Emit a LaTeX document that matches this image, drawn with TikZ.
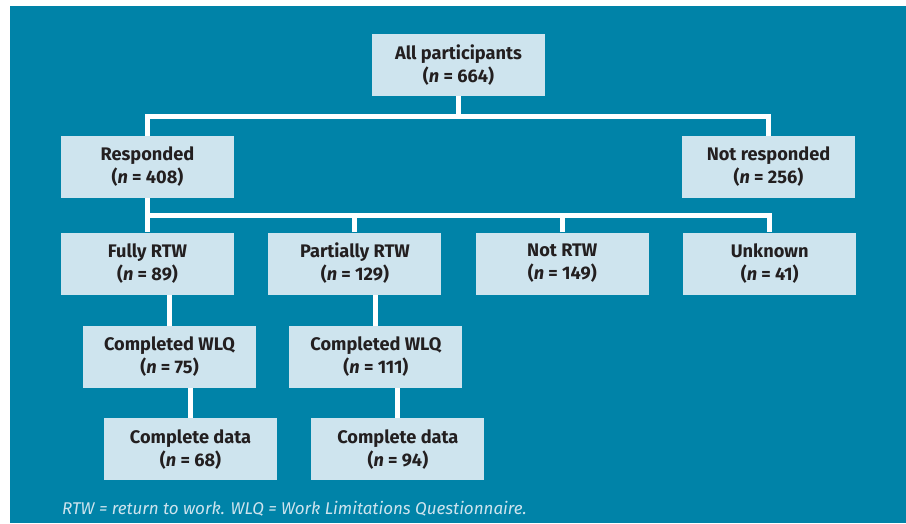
\documentclass[tikz,border=0pt]{standalone}
\usepackage{fontspec}
\setmainfont{Fira Sans}
\usetikzlibrary{positioning}
\usepackage{xcolor}
\definecolor{FlowTeal}{RGB}{0,131,168}
\definecolor{FlowLightBlue}{RGB}{206,228,238}
\definecolor{FlowText}{RGB}{35,31,32}

\begin{document}
\begin{tikzpicture}[
x=1pt,y=-1pt,
node distance=34pt,
box/.style={rectangle,fill=FlowLightBlue,text=FlowText,
minimum width=173pt,minimum height=62pt,inner sep=0pt,align=center,
font=\fontsize{18.2}{23}\selectfont\bfseries},
link/.style={draw=white,line width=5pt}
]
\useasboundingbox (0,0) rectangle (906,523);
\fill[FlowTeal] (10,6) rectangle (906,523);
\node[box] (all) at (458.5,65) {All participants\\(\textit{n} = 664)};
\node[box] (resp) at (147.5,167) {Responded\\(\textit{n} = 408)};
\node[box] (notresp) at (768.5,167) {Not responded\\(\textit{n} = 256)};
\node[box] (fully) at (147.5,263.5) {Fully RTW\\(\textit{n} = 89)};
\node[box,right=of fully] (partial) {Partially RTW\\(\textit{n} = 129)};
\node[box,right=of partial] (notrtw) {Not RTW\\(\textit{n} = 149)};
\node[box,right=of notrtw] (unknown) {Unknown\\(\textit{n} = 41)};
\node[box,below=31pt of fully,xshift=22pt] (wlqa) {Completed WLQ\\(\textit{n} = 75)};
\node[box,below=31pt of partial,xshift=21pt] (wlqb) {Completed WLQ\\(\textit{n} = 111)};
\node[box,below=30pt of wlqa,xshift=21pt] (dataa) {Complete data\\(\textit{n} = 68)};
\node[box,below=30pt of wlqb,xshift=22pt] (datab) {Complete data\\(\textit{n} = 94)};
\coordinate (busa) at (0,116.5);
\coordinate (busb) at (0,215.5);
% top split
\draw[link] (all.south) -- (all.south |- busa);
\draw[link] (resp.north) |- (busa -| notresp.north) -- (notresp.north);
% responders split
\draw[link] (resp.south) -- (fully.north);
\draw[link] (resp.south |- busb) -| (unknown.north);
\draw[link] (partial.north) -- (partial.north |- busb);
\draw[link] (notrtw.north) -- (notrtw.north |- busb);
% follow-up
\draw[link] (wlqa.north) -- (wlqa.north |- fully.south);
\draw[link] (wlqb.north) -- (wlqb.north |- partial.south);
\draw[link] (dataa.north) -- (dataa.north |- wlqa.south);
\draw[link] (datab.north) -- (datab.north |- wlqb.south);
\node[anchor=base west,inner sep=0pt,text=FlowLightBlue,font=\fontsize{17}{20}\selectfont\itshape] (note) at (62,514)
{RTW = return to work. WLQ = Work Limitations Questionnaire.};
\end{tikzpicture}
\end{document}
